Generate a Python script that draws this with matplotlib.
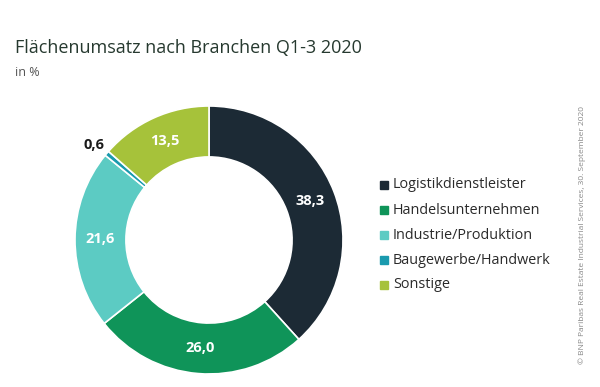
import matplotlib
matplotlib.use("Agg")
import matplotlib.pyplot as plt
import numpy as np

branches = ["Logistikdienstleister", "Handelsunternehmen", "Industrie/Produktion",
            "Baugewerbe/Handwerk", "Sonstige"]
shares = [38.3, 26.0, 21.6, 0.6, 13.5]
share_labels = ["38,3", "26,0", "21,6", "0,6", "13,5"]
colors = ["#1c2a35", "#0f9459", "#5ccbc3", "#1a9aae", "#a6c23a"]

plt.rcParams['font.family'] = ['Open Sans', 'DejaVu Sans']

W, H = 600, 387
fig = plt.figure(figsize=(W / 100, H / 100), dpi=100)
fig.patch.set_facecolor("white")

# donut: centre (209, 240) px, outer radius 134 px
cx, cy, r = 209, 240, 134
ax = fig.add_axes([(cx - r) / W, (H - cy - r) / H, 2 * r / W, 2 * r / H])
ax.pie(shares, colors=colors, startangle=90, counterclock=False,
       radius=1.0, wedgeprops=dict(width=0.38, edgecolor="white", linewidth=1.2))
ax.set_xlim(-1, 1)
ax.set_ylim(-1, 1)
ax.set_aspect("equal")
ax.axis("off")

start = 90.0
for val, lab in zip(shares, share_labels):
    mid = start - val / 2 * 3.6
    start -= val * 3.6
    a = np.deg2rad(mid)
    if val < 2:
        ax.text(1.13 * np.cos(a) - 0.0, 1.13 * np.sin(a) - 0.02, lab, ha="center", va="center",
                fontsize=10.5, color="#1a1a1a", fontweight="bold")
    else:
        ax.text(0.81 * np.cos(a), 0.81 * np.sin(a), lab, ha="center", va="center",
                fontsize=10.5, color="white", fontweight="bold")

fig.text(15 / W, 1 - 48 / H, "Flächenumsatz nach Branchen Q1-3 2020", ha="left", va="center",
         fontsize=13, color="#26392f", fontweight="medium")
fig.text(15 / W, 1 - 72 / H, "in %", ha="left", va="center", fontsize=9, color="#555555")

# legend
for i, (name, col) in enumerate(zip(branches, colors)):
    y = 185 + i * 25
    fig.patches.append(plt.Rectangle((380 / W, 1 - (y + 4) / H), 8 / W, 8 / H,
                                     transform=fig.transFigure, color=col, figure=fig))
    fig.text(393 / W, 1 - y / H, name, ha="left", va="center", fontsize=10.4, color="#2a2a2a")

fig.text(582 / W, 1 - 235 / H, "© BNP Paribas Real Estate Industrial Services, 30. September 2020",
         rotation=90, ha="center", va="center", fontsize=6, color="#888888")

fig.savefig("out.png", dpi=100, facecolor="white")
